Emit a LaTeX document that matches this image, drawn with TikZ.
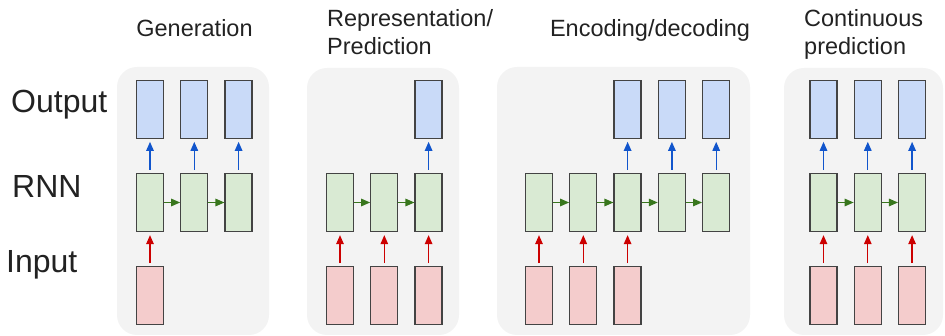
\documentclass[tikz,border=0pt]{standalone}
\usepackage{fontspec}
\setmainfont{Liberation Sans}
\usetikzlibrary{arrows.meta, positioning}
\usepackage{xcolor}
\definecolor{panelgray}{HTML}{F3F3F3}
\definecolor{outblue}{HTML}{C9DAF8}
\definecolor{rnngreen}{HTML}{D9EAD3}
\definecolor{inred}{HTML}{F4CCCC}
\definecolor{edgegray}{HTML}{434343}
\definecolor{arrblue}{HTML}{1155CC}
\definecolor{arrgreen}{HTML}{38761D}
\definecolor{arrred}{HTML}{CC0000}
\definecolor{textgray}{HTML}{222222}

\begin{document}
\begin{tikzpicture}[
  x=1pt, y=-1pt,
  node distance=34pt and 16pt,
  cell/.style={draw=edgegray, line width=1.3pt, minimum width=27pt, minimum height=58pt, inner sep=0pt},
  outcell/.style={cell, fill=outblue},
  rnncell/.style={cell, fill=rnngreen},
  incell/.style={cell, fill=inred},
  panel/.style={fill=panelgray, rounded corners=20pt},
  flow/.style={-{Triangle[length=9pt, width=7.5pt]}, line width=1.3pt},
  upflow/.style={flow, shorten <=3pt, shorten >=3pt},
  rowlabel/.style={font=\fontsize{32}{38}\selectfont, text=textgray, anchor=base west, inner sep=0pt},
  title/.style={font=\fontsize{23.5}{28}\selectfont, text=textgray, inner sep=0pt, align=left},
]
  \useasboundingbox (0,0) rectangle (945,336);

  % Grey panels behind the four cases
  \fill[panel] (117,67) rectangle (269,335);
  \fill[panel] (307,68) rectangle (459,335);
  \fill[panel] (497,67) rectangle (750,335);
  \fill[panel] (784,68) rectangle (943,335);

  % Row labels and titles
  \node[rowlabel] (lout) at (11,113) {Output};
  \node[rowlabel] (lrnn) at (12,198) {RNN};
  \node[rowlabel] (lin) at (6,273) {Input};
  \node[title, anchor=base] (tgen) at (194.5,37) {Generation};
  \node[title, anchor=base west] (trep) at (327,55) {Representation/\\Prediction};
  \node[title, anchor=base] (tenc) at (650,37) {Encoding/decoding};
  \node[title, anchor=base west] (tcon) at (804,55) {Continuous\\prediction};

  % Generation: one input, three outputs
  \node[rnncell] (gen-h1) at (150,202.5) {};
  \node[rnncell, right=of gen-h1] (gen-h2) {};
  \node[rnncell, right=of gen-h2] (gen-h3) {};
  \node[incell, below=of gen-h1] (gen-x1) {};
  \draw[upflow, arrred] (gen-x1) -- (gen-h1);
  \foreach \i/\j in {1/2, 2/3} \draw[flow, arrgreen] (gen-h\i) -- (gen-h\j);
  \foreach \i in {1,2,3} {
    \node[outcell, above=of gen-h\i] (gen-y\i) {};
    \draw[upflow, arrblue] (gen-h\i) -- (gen-y\i);
  }

  % Representation/Prediction: three inputs, one output
  \node[rnncell] (rep-h1) at (340,202.5) {};
  \node[rnncell, right=of rep-h1] (rep-h2) {};
  \node[rnncell, right=of rep-h2] (rep-h3) {};
  \node[outcell, above=of rep-h3] (rep-y3) {};
  \draw[upflow, arrblue] (rep-h3) -- (rep-y3);
  \foreach \i/\j in {1/2, 2/3} \draw[flow, arrgreen] (rep-h\i) -- (rep-h\j);
  \foreach \i in {1,2,3} {
    \node[incell, below=of rep-h\i] (rep-x\i) {};
    \draw[upflow, arrred] (rep-x\i) -- (rep-h\i);
  }

  % Encoding/decoding: three inputs, then three outputs
  \node[rnncell] (enc-h1) at (539,202.5) {};
  \foreach \i/\j in {1/2, 2/3, 3/4, 4/5} {
    \node[rnncell, right=of enc-h\i] (enc-h\j) {};
    \draw[flow, arrgreen] (enc-h\i) -- (enc-h\j);
  }
  \foreach \i in {1,2,3} {
    \node[incell, below=of enc-h\i] (enc-x\i) {};
    \draw[upflow, arrred] (enc-x\i) -- (enc-h\i);
  }
  \foreach \i in {3,4,5} {
    \node[outcell, above=of enc-h\i] (enc-y\i) {};
    \draw[upflow, arrblue] (enc-h\i) -- (enc-y\i);
  }

  % Continuous prediction: an output for every input
  \node[rnncell] (con-h1) at (823.5,202.5) {};
  \node[rnncell, right=of con-h1] (con-h2) {};
  \node[rnncell, right=of con-h2] (con-h3) {};
  \foreach \i/\j in {1/2, 2/3} \draw[flow, arrgreen] (con-h\i) -- (con-h\j);
  \foreach \i in {1,2,3} {
    \node[incell, below=of con-h\i] (con-x\i) {};
    \node[outcell, above=of con-h\i] (con-y\i) {};
    \draw[upflow, arrred] (con-x\i) -- (con-h\i);
    \draw[upflow, arrblue] (con-h\i) -- (con-y\i);
  }
\end{tikzpicture}
\end{document}
